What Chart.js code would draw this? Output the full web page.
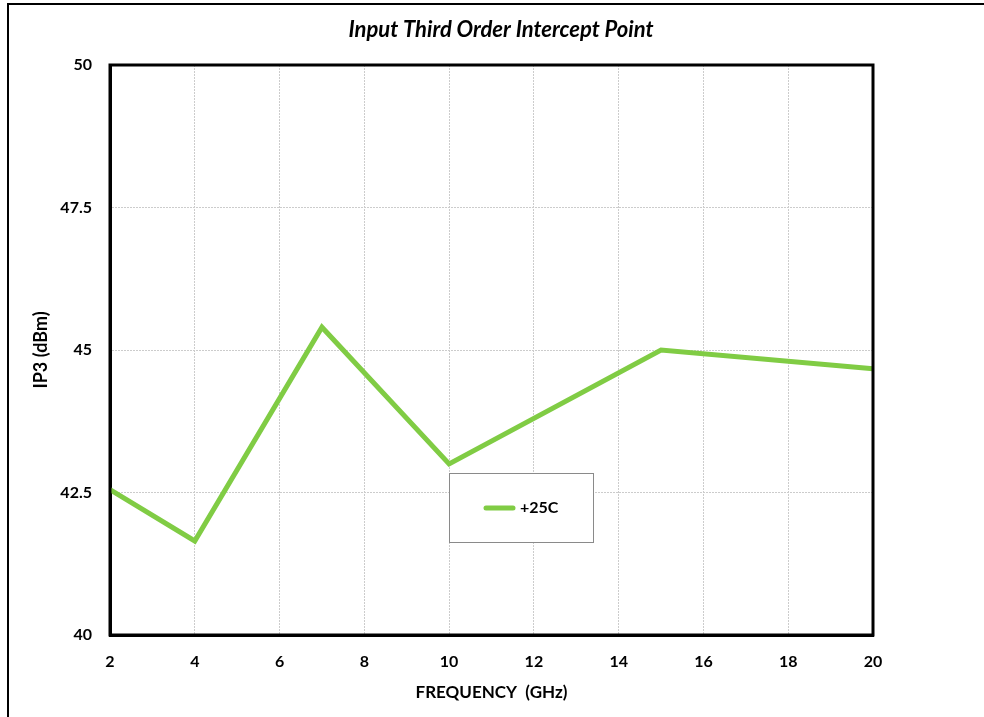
<!DOCTYPE html>
<html>
<head>
<meta charset="utf-8">
<script src="https://cdn.jsdelivr.net/npm/chart.js@4/dist/chart.umd.min.js"></script>
<style>
  html, body { margin: 0; padding: 0; background: #fff; }
  #wrap { width: 984px; height: 717px; position: relative; }
</style>
</head>
<body>
<div id="wrap"><canvas id="c" width="984" height="717"></canvas></div>
<script>
const frequencies = [2, 4, 7, 10, 15, 20];
const ip3Values = [42.55, 41.65, 45.4, 43.0, 45.0, 44.67];
const seriesLabel = '+25C';
const chartTitle = 'Input Third Order Intercept Point';
const xTicks = [2, 4, 6, 8, 10, 12, 14, 16, 18, 20];
const yTicks = [40, 42.5, 45, 47.5, 50];

const FONT = 'Lato, "Open Sans", "Liberation Sans", sans-serif';
const GREEN = '#80CC44';

const framePlugin = {
  id: 'frame',
  beforeDraw(chart) {
    const ctx = chart.ctx;
    ctx.save();
    ctx.fillStyle = '#fff';
    ctx.fillRect(0, 0, chart.width, chart.height);
    ctx.strokeStyle = '#000';
    ctx.lineWidth = 2;
    ctx.beginPath();
    ctx.moveTo(8, 717);
    ctx.lineTo(8, 4);
    ctx.lineTo(984, 4);
    ctx.stroke();
    // title
    ctx.fillStyle = '#000';
    ctx.font = 'italic bold 22px ' + FONT;
    ctx.textAlign = 'center';
    ctx.textBaseline = 'middle';
    ctx.fillText(chartTitle, 501, 30);
    ctx.restore();
  },
  afterDraw(chart) {
    const ctx = chart.ctx;
    const a = chart.chartArea;
    ctx.save();
    ctx.strokeStyle = '#000';
    ctx.lineWidth = 3;
    ctx.strokeRect(a.left, a.top, a.right - a.left, a.bottom - a.top);
    // legend box inside plot
    const ds = chart.data.datasets[0];
    const bx = 449, by = 473, bw = 144, bh = 69;
    ctx.fillStyle = '#fff';
    ctx.fillRect(bx, by, bw, bh);
    ctx.strokeStyle = '#8a8a8a';
    ctx.lineWidth = 1;
    ctx.strokeRect(bx + 0.5, by + 0.5, bw, bh);
    ctx.strokeStyle = ds.borderColor;
    ctx.lineWidth = 5;
    ctx.lineCap = 'round';
    ctx.beginPath();
    ctx.moveTo(486, 508);
    ctx.lineTo(513, 508);
    ctx.stroke();
    ctx.fillStyle = '#000';
    ctx.font = 'bold 16px ' + FONT;
    ctx.textBaseline = 'middle';
    ctx.fillText(ds.label, 520, 508);
    ctx.restore();
  }
};

new Chart(document.getElementById('c'), {
  type: 'line',
  data: {
    datasets: [{
      label: seriesLabel,
      data: frequencies.map((f, i) => ({ x: f, y: ip3Values[i] })),
      borderColor: GREEN,
      backgroundColor: GREEN,
      borderWidth: 5,
      pointRadius: 0,
      tension: 0,
      borderJoinStyle: 'miter',
      clip: false
    }]
  },
  options: {
    responsive: false,
    animation: false,
    devicePixelRatio: 1,
    layout: { padding: { left: 0, right: 111, top: 65, bottom: 0 } },
    plugins: {
      legend: { display: false },
      tooltip: { enabled: false },
      title: { display: false }
    },
    scales: {
      x: {
        type: 'linear',
        min: 2, max: 20,
        afterBuildTicks: s => { s.ticks = xTicks.map(v => ({ value: v })); },
        afterFit: s => { s.height = 82; },
        grid: { color: '#cccccc', lineWidth: 1, drawTicks: false },
        border: { display: true, color: '#000', width: 3, dash: [2, 1] },
        ticks: { color: '#000', font: { family: FONT, size: 16, weight: 'bold' }, padding: 17, maxRotation: 0 },
        title: {
          display: true, text: 'FREQUENCY  (GHz)', color: '#000',
          font: { family: FONT, size: 17, weight: 'bold' }, padding: { top: 4, bottom: 14 }
        }
      },
      y: {
        type: 'linear',
        min: 40, max: 50,
        afterBuildTicks: s => { s.ticks = yTicks.map(v => ({ value: v })); },
        afterFit: s => { s.width = 110; },
        grid: { color: '#cccccc', lineWidth: 1, drawTicks: false },
        border: { display: true, color: '#000', width: 3, dash: [2, 1] },
        ticks: { color: '#000', font: { family: FONT, size: 16, weight: 'bold' }, padding: 18 },
        title: {
          display: true, text: 'IP3 (dBm)', color: '#000',
          font: { family: FONT, size: 18, weight: 'bold' }, padding: { bottom: 0, top: 30 }
        }
      }
    }
  },
  plugins: [framePlugin]
});
</script>
</body>
</html>
